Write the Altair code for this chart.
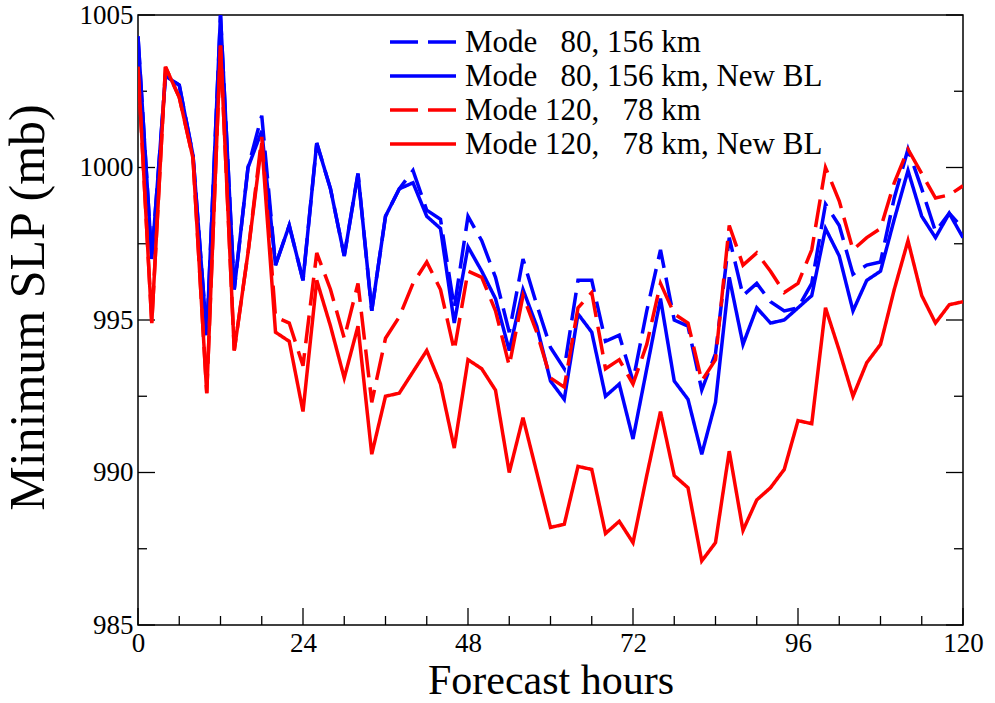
import altair as alt
import pandas as pd

hours = list(range(0, 121, 2))

mode80 = [1004.3, 997.0, 1003.0, 1002.7, 1000.4, 994.5, 1005.0, 996.0, 1000.0, 1001.7,
          996.8, 998.1, 996.3, 1000.8, 999.3, 997.1, 999.8, 995.3, 998.4, 999.3,
          999.9, 998.6, 998.3, 995.4, 998.4, 997.6, 996.4, 994.6, 997.0, 995.5,
          994.1, 993.4, 996.3, 996.3, 994.3, 994.5, 993.0, 995.3, 997.3, 995.0,
          994.8, 992.7, 993.9, 997.7, 995.8, 996.2, 995.6, 995.3, 995.4, 996.2,
          998.8, 998.1, 996.5, 996.8, 996.9, 999.0, 1000.6, 999.3, 997.9, 998.5,
          998.0]
mode80_bl = [1004.3, 997.0, 1003.0, 1002.7, 1000.4, 994.5, 1005.0, 996.0, 1000.0, 1001.2,
             996.8, 998.1, 996.3, 1000.8, 999.3, 997.1, 999.8, 995.3, 998.4, 999.3,
             999.5, 998.4, 998.0, 994.9, 997.4, 996.6, 995.7, 994.0, 996.0, 994.8,
             993.0, 992.4, 995.2, 994.6, 992.5, 992.9, 991.1, 993.4, 995.7, 993.0,
             992.4, 990.6, 992.3, 996.4, 994.2, 995.4, 994.9, 995.0, 995.4, 995.8,
             998.0, 997.1, 995.3, 996.3, 996.6, 998.3, 999.9, 998.4, 997.7, 998.5,
             997.7]
mode120 = [1003.3, 994.9, 1003.3, 1002.3, 1000.3, 992.6, 1004.0, 994.0, 997.2, 1001.0,
           995.1, 994.9, 993.5, 997.2, 996.0, 994.4, 996.2, 992.3, 994.4, 995.1,
           996.2, 996.9, 996.0, 994.0, 996.6, 996.4, 995.3, 993.5, 995.8, 994.6,
           993.1, 992.8, 995.4, 995.9, 993.4, 993.7, 992.9, 994.2, 996.2, 995.2,
           994.9, 993.0, 993.7, 998.1, 996.8, 997.2, 996.6, 995.9, 996.2, 997.3,
           1000.0, 998.9, 997.3, 997.7, 998.0, 999.5, 1000.6, 999.8, 999.0, 999.1,
           999.4]
mode120_bl = [1003.3, 994.9, 1003.3, 1002.3, 1000.3, 992.6, 1004.0, 994.0, 997.2, 1000.8,
              994.6, 994.3, 992.0, 996.3, 994.8, 993.1, 994.8, 990.6, 992.5, 992.6,
              993.3, 994.0, 992.9, 990.8, 993.7, 993.4, 992.7, 990.0, 991.8, 990.0,
              988.2, 988.3, 990.2, 990.1, 988.0, 988.4, 987.7, 989.9, 992.0, 989.9,
              989.5, 987.1, 987.7, 990.7, 988.1, 989.1, 989.5, 990.1, 991.7, 991.6,
              995.4, 994.0, 992.5, 993.6, 994.2, 996.0, 997.6, 995.8, 994.9, 995.5,
              995.6]

series_names = [
    "Mode\u00a0\u00a0\u00a080, 156 km",
    "Mode\u00a0\u00a0\u00a080, 156 km, New BL",
    "Mode 120,\u00a0\u00a0\u00a078 km",
    "Mode 120,\u00a0\u00a0\u00a078 km, New BL",
]
series_values = [mode80, mode80_bl, mode120, mode120_bl]
series_colors = ["#0000ff", "#0000ff", "#ff0000", "#ff0000"]
series_dash = [[28, 10], [1, 0], [28, 10], [1, 0]]

x_major = [0, 24, 48, 72, 96, 120]
x_minor = [6, 12, 18, 30, 36, 42, 54, 60, 66, 78, 84, 90, 102, 108, 114]
y_major = [985, 990, 995, 1000, 1005]
y_minor = [987.5, 992.5, 997.5, 1002.5]

rows = []
for name, vals in zip(series_names, series_values):
    for i, (h, v) in enumerate(zip(hours, vals)):
        rows.append({"hour": h, "slp": v, "series": name, "order": i})
df = pd.DataFrame(rows)

W, H = 825, 610
FONT = "Liberation Serif"

xscale = alt.Scale(domain=[0, 120], nice=False, zero=False)
yscale = alt.Scale(domain=[985, 1005], nice=False, zero=False)

lines = alt.Chart(df).mark_line(strokeWidth=3.5, clip=True).encode(
    x=alt.X("hour:Q", scale=xscale,
            axis=alt.Axis(values=x_major, title="Forecast hours", grid=False,
                          ticks=False, domain=False, labelFontSize=27,
                          labelPadding=5, titleFontSize=42, titlePadding=4,
                          labelFlush=False, format="d",
                          labelFont=FONT, titleFont=FONT, labelColor="black",
                          titleColor="black", titleFontWeight="normal")),
    y=alt.Y("slp:Q", scale=yscale,
            axis=alt.Axis(values=y_major, title="Minimum SLP (mb)", grid=False,
                          ticks=False, domain=False, labelFontSize=27,
                          labelPadding=5, titleFontSize=50, labelFont=FONT,
                          labelFlush=False, format="d",
                          titleFont=FONT, labelColor="black", titleColor="black",
                          titleFontWeight="normal", titleX=-110, titleY=292,
                          titleAnchor="middle", titleBaseline="middle")),
    color=alt.Color("series:N", legend=None,
                    scale=alt.Scale(domain=series_names, range=series_colors)),
    strokeDash=alt.StrokeDash("series:N", legend=None,
                              scale=alt.Scale(domain=series_names, range=series_dash)),
    order="order:Q",
)

xmaj = pd.DataFrame({"t": x_major})
xmin = pd.DataFrame({"t": x_minor})
ymaj = pd.DataFrame({"v": y_major})
ymin = pd.DataFrame({"v": y_minor})

def xticks(data, length):
    return alt.Chart(data).mark_rule(color="black", strokeWidth=1.3).encode(
        x=alt.X("t:Q", scale=xscale), y=alt.value(H), y2=alt.value(H - length))

def yticks_left(data, length):
    return alt.Chart(data).mark_rule(color="black", strokeWidth=1.3).encode(
        y=alt.Y("v:Q", scale=yscale), x=alt.value(0), x2=alt.value(length))

def yticks_right(data, length):
    return alt.Chart(data).mark_rule(color="black", strokeWidth=1.3).encode(
        y=alt.Y("v:Q", scale=yscale), x=alt.value(W), x2=alt.value(W - length))

# legend (drawn manually, one row per series)
legend_df = pd.DataFrame({"series": series_names})
legend_rows_y = [27, 61, 95, 129]
legend_layers = []
for i, (name, col, dash) in enumerate(zip(series_names, series_colors, series_dash)):
    row = legend_df.iloc[[i]]
    yy = legend_rows_y[i]
    legend_layers.append(
        alt.Chart(row).mark_rule(color=col, strokeWidth=3.5, strokeDash=dash).encode(
            x=alt.value(252), x2=alt.value(318), y=alt.value(yy)))
    legend_layers.append(
        alt.Chart(row).mark_text(align="left", baseline="middle", font=FONT,
                                 fontSize=31, color="black").encode(
            text="series:N", x=alt.value(327), y=alt.value(yy + 1)))

chart = alt.layer(
    xticks(xmaj, 17), xticks(xmin, 9),
    yticks_left(ymaj, 17), yticks_left(ymin, 9),
    yticks_right(ymaj, 17), yticks_right(ymin, 9),
    lines,
    *legend_layers,
).properties(
    width=W, height=H,
    autosize=alt.AutoSizeParams(type="none"),
    padding={"left": 138, "top": 15, "right": 32, "bottom": 78},
    background="white",
).configure_view(stroke="black", strokeWidth=1.5)

chart.save("out.html", embed_options={"renderer": "svg", "actions": False})
